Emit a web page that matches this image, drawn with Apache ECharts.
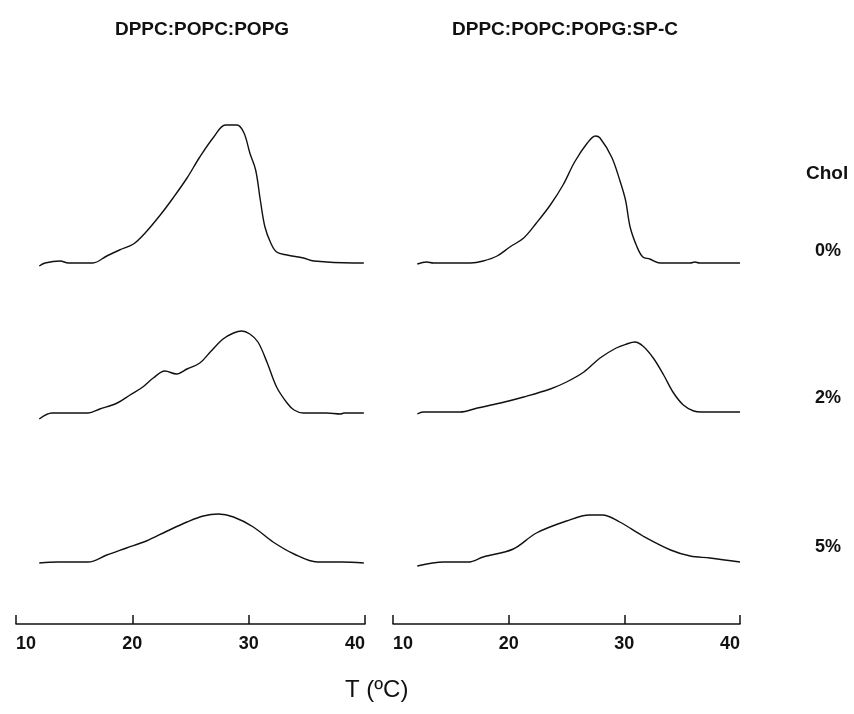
<!DOCTYPE html>
<html>
<head>
<meta charset="utf-8">
<script src="https://cdn.jsdelivr.net/npm/echarts@6/dist/echarts.min.js"></script>
<style>html,body{margin:0;padding:0;background:#fff}#c{width:854px;height:714px}</style>
</head>
<body>
<div id="c"></div>
<script>
// Panel titles and row labels
const panelTitles = ["DPPC:POPC:POPG", "DPPC:POPC:POPG:SP-C"];
const rowLabels = ["0%", "2%", "5%"];
const legendTitle = "Chol";
const xAxisName = "T (\u00BAC)";
const xTicks = [10, 20, 30, 40];

// Vertical offsets of the stacked thermograms (arbitrary Cp units)
const rowOffsets = [361, 211, 62];

// Left panel (DPPC:POPC:POPG)
const T_L0 = [12.0,12.5,13.8,14.5,16.6,17.8,18.9,20.1,21.1,22.4,23.5,24.7,25.8,27.0,28.0,29.0,29.6,30.1,30.6,31.0,31.4,31.9,32.4,33.3,34.7,35.6,39.0,39.9];
const Cp_L0 = [-3,0,2,0,0,7,13,19,30,48,65,85,106,126,138,138,130,110,93,63,36,20,11,8,5,2,0,0];

const T_L2 = [12.0,13.1,16.2,17.2,18.7,19.8,20.9,21.8,22.8,23.8,24.7,25.8,26.7,27.8,28.7,29.4,30.1,30.8,31.6,32.4,33.3,33.9,34.7,36.7,37.9,38.2,39.9];
const Cp_L2 = [-6,0,0,4,10,18,26,35,42,39,44,50,61,74,80,82,79,71,50,26,10,3,0,0,-1,0,0];

const T_L5 = [12.0,13.6,16.2,17.8,19.5,21.2,23.0,24.7,26.1,27.4,28.7,30.4,32.1,33.9,35.9,38.0,39.9];
const Cp_L5 = [-1,0,0,7,14,21,31,40,46,48,45,35,20,8,0,0,-1];

// Right panel (DPPC:POPC:POPG:SP-C)
const T_R0 = [12.1,12.9,13.5,16.7,17.8,19.0,20.1,21.3,22.4,23.6,24.7,25.7,26.8,27.5,27.9,28.9,29.6,30.1,30.5,31.1,31.6,32.2,33.1,35.7,36.1,36.5,40.0];
const Cp_R0 = [-1,1,0,0,2,7,16,25,40,58,78,101,120,127,125,106,83,63,36,16,6,4,0,0,1,0,0];

const T_R2 = [12.1,12.6,15.8,17.3,19.3,21.3,23.6,25.0,26.5,27.9,29.3,30.2,30.9,31.6,32.5,33.4,34.2,35.1,36.0,36.7,40.0];
const Cp_R2 = [-1,1,1,5,10,16,24,31,41,55,65,69,71,67,55,38,21,8,2,1,1];

const T_R5 = [12.1,14.4,16.5,17.8,20.4,22.4,25.0,27.0,28.1,29.6,31.6,34.0,35.7,37.4,40.0];
const Cp_R5 = [-4,0,0,5,13,29,41,47,47,40,26,12,6,4,0];

const panels = [
  [[T_L0, Cp_L0], [T_L2, Cp_L2], [T_L5, Cp_L5]],
  [[T_R0, Cp_R0], [T_R2, Cp_R2], [T_R5, Cp_R5]]
];

const FONT = "Liberation Sans, Arial, sans-serif";
const grids = [
  {left: 16, width: 349, top: 124, height: 500},
  {left: 393, width: 347, top: 124, height: 500}
];

const xAxes = grids.map((g, i) => ({
  gridIndex: i, type: 'value', min: xTicks[0], max: xTicks[xTicks.length - 1], interval: 10,
  axisLine: {show: true, onZero: false, lineStyle: {color: '#111', width: 1.5}},
  axisTick: {show: true, inside: true, length: 9, lineStyle: {color: '#111', width: 1.5}},
  splitLine: {show: false},
  axisLabel: {color: '#111', fontFamily: FONT, fontWeight: 'bold', fontSize: 18, margin: 11,
    alignMinLabel: 'left', alignMaxLabel: 'right'}
}));
const yAxes = grids.map((g, i) => ({gridIndex: i, type: 'value', min: 0, max: 500, show: false}));

const series = [];
panels.forEach((rows, p) => {
  rows.forEach((pair, r) => {
    const [T, cp] = pair;
    series.push({
      type: 'line', xAxisIndex: p, yAxisIndex: p, showSymbol: false, smooth: 0.35,
      lineStyle: {color: '#111', width: 1.4}, silent: true,
      data: T.map((t, i) => [t, rowOffsets[r] + cp[i]])
    });
  });
});

const chart = echarts.init(document.getElementById('c'), null, {renderer: 'canvas'});
const labelY = [251, 398, 547];
const graphics = [
  {type: 'text', x: 806, y: 174, style: {text: legendTitle, font: 'bold 19px ' + FONT, fill: '#111', textVerticalAlign: 'middle'}},
  ...rowLabels.map((t, i) => ({type: 'text', x: 815, y: labelY[i], style: {text: t, font: 'bold 18px ' + FONT, fill: '#111', textVerticalAlign: 'middle'}})),
  {type: 'text', x: 345, y: 690, style: {text: xAxisName, font: '24px ' + FONT, fill: '#111', textVerticalAlign: 'middle'}}
];
chart.setOption({
  backgroundColor: '#fff',
  animation: false,
  title: [
    {text: panelTitles[0], left: 197, top: 15, textAlign: 'center', textStyle: {fontFamily: FONT, fontWeight: 'bold', fontSize: 19, color: '#111'}},
    {text: panelTitles[1], left: 560, top: 15, textAlign: 'center', textStyle: {fontFamily: FONT, fontWeight: 'bold', fontSize: 19, color: '#111'}}
  ],
  grid: grids,
  xAxis: xAxes,
  yAxis: yAxes,
  series: series,
  graphic: graphics
});
</script>
</body>
</html>
